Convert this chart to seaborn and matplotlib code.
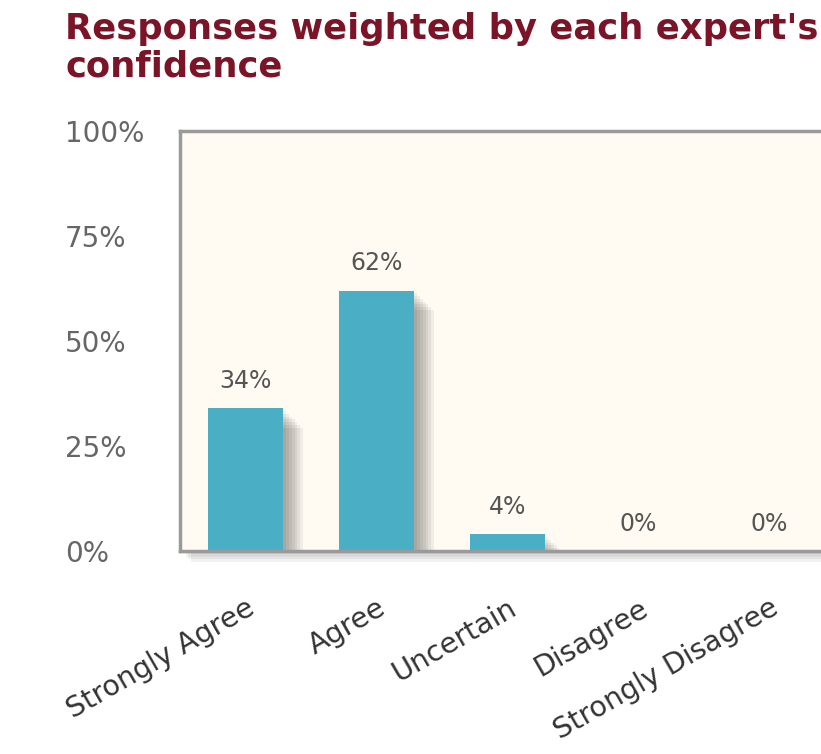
import numpy as np
import matplotlib
matplotlib.use("Agg")
import matplotlib.pyplot as plt
import matplotlib.patheffects as pe
import seaborn as sns

categories = ["Strongly Agree", "Agree", "Uncertain", "Disagree", "Strongly Disagree"]
values = [34, 62, 4, 0, 0]
y_ticks = [0, 25, 50, 75, 100]
y_tick_labels = ["0%", "25%", "50%", "75%", "100%"]
title = "Responses weighted by each expert's\nconfidence"

BAR = "#4AAFC5"
PANEL = "#FFFBF2"
FRAME = "#9A9A9A"

sns.set_theme(style="white")
plt.rcParams["font.family"] = ["DejaVu Sans"]

fig = plt.figure(figsize=(8.21, 7.54), dpi=100)
ax = fig.add_axes([180 / 821, 203 / 754, 655 / 821, 420 / 754])
ax.set_facecolor(PANEL)

sns.barplot(x=categories, y=values, color=BAR, saturation=1, width=0.58, ax=ax)

# soft drop shadow to the lower right of each bar
shadow = [pe.SimplePatchShadow(offset=(d, -d), shadow_rgbFace="#000000", alpha=0.055)
          for d in (14, 12, 10, 8, 6, 4, 2)]
for p in ax.patches:
    p.set_path_effects(shadow + [pe.Normal()])
    p.set_edgecolor("none")

# shadow under the plot frame
ax.patch.set_path_effects([pe.SimplePatchShadow(offset=(d, -d), shadow_rgbFace="#000000", alpha=0.05)
                           for d in (8, 6, 4, 2)] + [pe.Normal()])

for p, v in zip(ax.patches, values):
    ax.annotate(f"{v}%", (p.get_x() + p.get_width() / 2, p.get_height()),
                xytext=(0, 11), textcoords="offset points", ha="center", va="bottom",
                fontsize=17, color="#555555")

ax.set_yticks(y_ticks, y_tick_labels)
ax.set_ylim(0, 100)
ax.tick_params(axis="y", length=0, pad=83, labelsize=20, labelcolor="#666666")
for lbl in ax.get_yticklabels():
    lbl.set_horizontalalignment("left")

ax.set_xticks(np.arange(len(categories)), categories)
ax.set_xlim(-0.5, 4.5)
ax.tick_params(axis="x", length=0, pad=31, labelsize=20.5, labelcolor="#333333")
for lbl in ax.get_xticklabels():
    lbl.set_rotation(30)
    lbl.set_rotation_mode("anchor")
    lbl.set_horizontalalignment("right")
    lbl.set_verticalalignment("top")

ax.set_xlabel("")
ax.set_ylabel("")
for s in ax.spines.values():
    s.set_visible(True)
    s.set_color(FRAME)
    s.set_linewidth(2.5)

fig.text(65 / 821, 1 - 12 / 754, title, ha="left", va="top", fontsize=25.5,
         fontweight="bold", color="#7B1426", linespacing=1.12)

fig.savefig("out.png", dpi=100, facecolor="white")
